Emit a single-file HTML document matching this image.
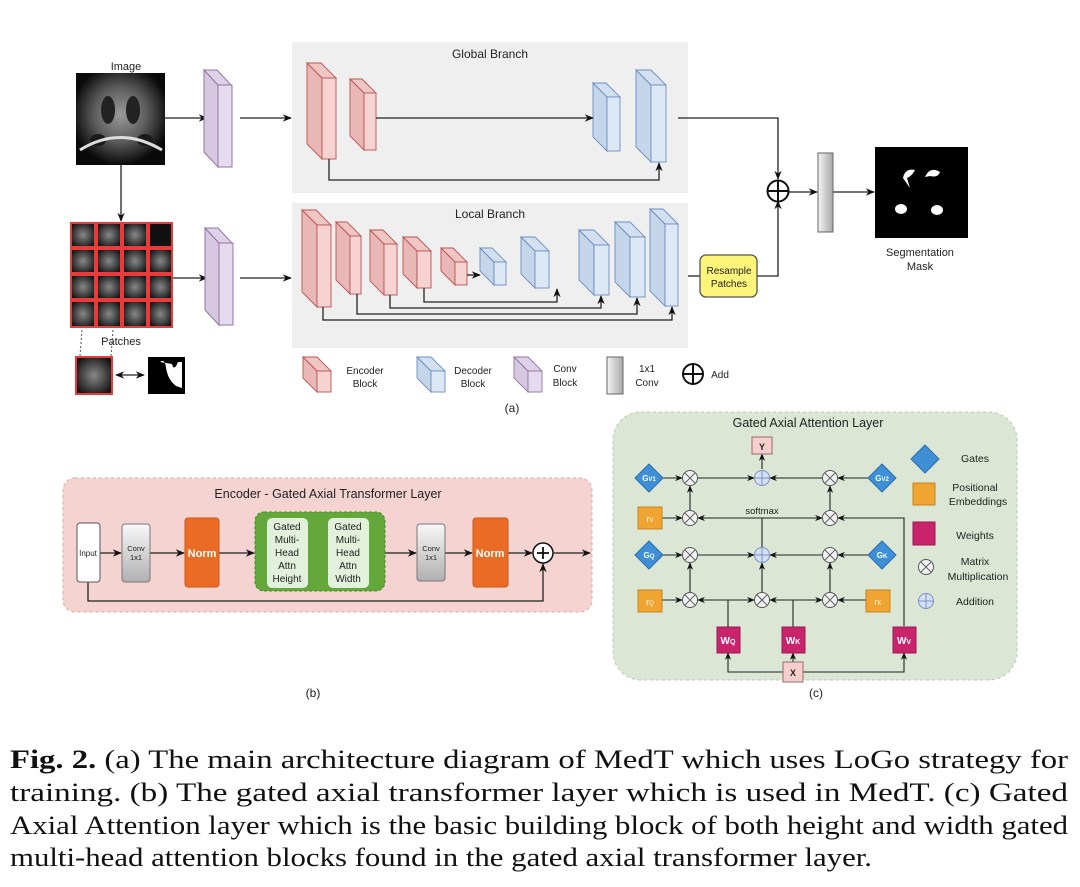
<!DOCTYPE html>
<html><head><meta charset="utf-8"><style>
html,body{margin:0;padding:0;background:#fff;width:1080px;height:887px;overflow:hidden}
svg{display:block}
.s{font-family:"Liberation Sans",sans-serif;fill:#222}
.c{font-family:"Liberation Serif",serif;fill:#111;font-size:26px}
</style></head><body>
<svg width="1080" height="887" viewBox="0 0 1080 887" xmlns="http://www.w3.org/2000/svg">
<defs>
<marker id="a" viewBox="0 0 10 10" refX="9" refY="5" markerWidth="7" markerHeight="7" orient="auto-start-reverse"><path d="M0,1 L10,5 L0,9 L3,5z" fill="#111"/></marker>
<radialGradient id="img" cx="50%" cy="45%" r="55%"><stop offset="0" stop-color="#9a9a9a"/><stop offset="0.55" stop-color="#5a5a5a"/><stop offset="1" stop-color="#0a0a0a"/></radialGradient>
<linearGradient id="gr" x1="0" x2="1"><stop offset="0" stop-color="#f5f5f5"/><stop offset="1" stop-color="#a8a8a8"/></linearGradient>
<linearGradient id="gv" x1="0" y1="0" x2="0" y2="1"><stop offset="0" stop-color="#f8f8f8"/><stop offset="1" stop-color="#b0b0b0"/></linearGradient>
<radialGradient id="pt" cx="50%" cy="50%" r="60%"><stop offset="0" stop-color="#888"/><stop offset="1" stop-color="#111"/></radialGradient>
</defs>

<rect x="292" y="42" width="396" height="151" fill="#efefef"/>
<rect x="292" y="203" width="396" height="145" fill="#efefef"/>
<text x="490" y="58" class="s" font-size="12" text-anchor="middle">Global Branch</text>
<text x="490" y="218" class="s" font-size="12" text-anchor="middle">Local Branch</text>

<text x="126" y="70" class="s" font-size="11" text-anchor="middle">Image</text>
<rect x="76" y="73" width="89" height="92" fill="url(#img)"/>
<ellipse cx="108" cy="110" rx="7" ry="14" fill="#222"/><ellipse cx="133" cy="110" rx="7" ry="14" fill="#222"/>
<ellipse cx="98" cy="140" rx="8" ry="6" fill="#1a1a1a"/><ellipse cx="145" cy="140" rx="8" ry="6" fill="#1a1a1a"/>
<path d="M80,150 Q120,125 162,150" stroke="#ddd" stroke-width="3" fill="none"/>

<g stroke="#222" stroke-width="1.3" fill="none">
<line x1="165" y1="118" x2="207" y2="118" marker-end="url(#a)"/>
<line x1="240" y1="118" x2="291" y2="118" marker-end="url(#a)"/>
<line x1="121" y1="165" x2="121" y2="221" marker-end="url(#a)"/>
<line x1="172" y1="278" x2="207" y2="278" marker-end="url(#a)"/>
<line x1="240" y1="278" x2="291" y2="278" marker-end="url(#a)"/>
</g>

<g stroke="#9673a6" stroke-width="1">
<polygon points="204,70 218,85 218,167 204,152" fill="#d6c8e0"/><polygon points="204,70 217,70 231,85 218,85" fill="#ded2e8"/><rect x="218" y="85" width="14" height="82" fill="#e5dbee"/>
<polygon points="205,228 219,243 219,325 205,310" fill="#d6c8e0"/><polygon points="205,228 218,228 232,243 219,243" fill="#ded2e8"/><rect x="219" y="243" width="14" height="82" fill="#e5dbee"/>
</g>

<g stroke="#e83c3c" stroke-width="2">
<rect x="71" y="223" width="24" height="24" fill="url(#pt)"/><rect x="97" y="223" width="24" height="24" fill="url(#pt)"/><rect x="123" y="223" width="24" height="24" fill="url(#pt)"/><rect x="149" y="223" width="23" height="24" fill="#111"/>
<rect x="71" y="249" width="24" height="24" fill="url(#pt)"/><rect x="97" y="249" width="24" height="24" fill="url(#pt)"/><rect x="123" y="249" width="24" height="24" fill="url(#pt)"/><rect x="149" y="249" width="23" height="24" fill="url(#pt)"/>
<rect x="71" y="275" width="24" height="24" fill="url(#pt)"/><rect x="97" y="275" width="24" height="24" fill="url(#pt)"/><rect x="123" y="275" width="24" height="24" fill="url(#pt)"/><rect x="149" y="275" width="23" height="24" fill="url(#pt)"/>
<rect x="71" y="301" width="24" height="26" fill="url(#pt)"/><rect x="97" y="301" width="24" height="26" fill="url(#pt)"/><rect x="123" y="301" width="24" height="26" fill="url(#pt)"/><rect x="149" y="301" width="23" height="26" fill="url(#pt)"/>
</g>
<text x="121" y="345" class="s" font-size="11" text-anchor="middle">Patches</text>
<line x1="82" y1="330" x2="80" y2="356" stroke="#555" stroke-dasharray="2,2"/>
<line x1="113" y1="330" x2="111" y2="356" stroke="#555" stroke-dasharray="2,2"/>
<rect x="76" y="357" width="36" height="37" fill="url(#pt)" stroke="#e83c3c" stroke-width="2"/>
<line x1="116" y1="375" x2="144" y2="375" stroke="#222" stroke-width="1.3" marker-start="url(#a)" marker-end="url(#a)"/>
<rect x="148" y="357" width="37" height="37" fill="#000"/>
<path d="M160,362 Q165,358 166,368 Q168,380 176,386 L182,388 L182,362 L178,362 Q174,372 172,364 Z" fill="#fff"/>

<g stroke="#b85450" stroke-width="0.9">
<polygon points="307,63 322,78 322,159 307,144" fill="#e9b8b6"/><polygon points="307,63 321,63 336,78 322,78" fill="#f0c6c4"/><rect x="322" y="78" width="14" height="81" fill="#f6d3d1"/>
<polygon points="350,79 364,93 364,150 350,136" fill="#e9b8b6"/><polygon points="350,79 362,79 376,93 364,93" fill="#f0c6c4"/><rect x="364" y="93" width="12" height="57" fill="#f6d3d1"/>
<polygon points="302,210 317,225 317,307 302,292" fill="#e9b8b6"/><polygon points="302,210 316,210 331,225 317,225" fill="#f0c6c4"/><rect x="317" y="225" width="14" height="82" fill="#f6d3d1"/>
<polygon points="336,222 350,236 350,294 336,280" fill="#e9b8b6"/><polygon points="336,222 347,222 361,236 350,236" fill="#f0c6c4"/><rect x="350" y="236" width="11" height="58" fill="#f6d3d1"/>
<polygon points="370,230 384,244 384,295 370,281" fill="#e9b8b6"/><polygon points="370,230 383,230 397,244 384,244" fill="#f0c6c4"/><rect x="384" y="244" width="13" height="51" fill="#f6d3d1"/>
<polygon points="403,237 417,251 417,288 403,274" fill="#e9b8b6"/><polygon points="403,237 417,237 431,251 417,251" fill="#f0c6c4"/><rect x="417" y="251" width="14" height="37" fill="#f6d3d1"/>
<polygon points="441,248 455,262 455,285 441,271" fill="#e9b8b6"/><polygon points="441,248 453,248 467,262 455,262" fill="#f0c6c4"/><rect x="455" y="262" width="12" height="23" fill="#f6d3d1"/>
<polygon points="303,357 317,371 317,392 303,378" fill="#e9b8b6"/><polygon points="303,357 317,357 331,371 317,371" fill="#f0c6c4"/><rect x="317" y="371" width="14" height="21" fill="#f6d3d1"/>
</g>
<g stroke="#6c8ebf" stroke-width="0.9">
<polygon points="593,83 607,97 607,151 593,137" fill="#c5d5ea"/><polygon points="593,83 606,83 620,97 607,97" fill="#d2e0f1"/><rect x="607" y="97" width="13" height="54" fill="#dde8f7"/>
<polygon points="636,70 651,85 651,162 636,147" fill="#c5d5ea"/><polygon points="636,70 651,70 666,85 651,85" fill="#d2e0f1"/><rect x="651" y="85" width="15" height="77" fill="#dde8f7"/>
<polygon points="480,248 494,262 494,285 480,271" fill="#c5d5ea"/><polygon points="480,248 492,248 506,262 494,262" fill="#d2e0f1"/><rect x="494" y="262" width="12" height="23" fill="#dde8f7"/>
<polygon points="521,237 535,251 535,288 521,274" fill="#c5d5ea"/><polygon points="521,237 535,237 549,251 535,251" fill="#d2e0f1"/><rect x="535" y="251" width="14" height="37" fill="#dde8f7"/>
<polygon points="579,230 594,245 594,295 579,280" fill="#c5d5ea"/><polygon points="579,230 594,230 609,245 594,245" fill="#d2e0f1"/><rect x="594" y="245" width="15" height="50" fill="#dde8f7"/>
<polygon points="615,222 630,237 630,297 615,282" fill="#c5d5ea"/><polygon points="615,222 630,222 645,237 630,237" fill="#d2e0f1"/><rect x="630" y="237" width="15" height="60" fill="#dde8f7"/>
<polygon points="650,209 665,224 665,306 650,291" fill="#c5d5ea"/><polygon points="650,209 663,209 678,224 665,224" fill="#d2e0f1"/><rect x="665" y="224" width="13" height="82" fill="#dde8f7"/>
<polygon points="417,357 431,371 431,392 417,378" fill="#c5d5ea"/><polygon points="417,357 431,357 445,371 431,371" fill="#d2e0f1"/><rect x="431" y="371" width="14" height="21" fill="#dde8f7"/>
</g>
<g stroke="#9673a6" stroke-width="0.9">
<polygon points="514,357 528,371 528,392 514,378" fill="#d6c8e0"/><polygon points="514,357 528,357 542,371 528,371" fill="#ded2e8"/><rect x="528" y="371" width="14" height="21" fill="#e5dbee"/>
</g>

<g stroke="#222" stroke-width="1.3" fill="none">
<line x1="376" y1="118" x2="593" y2="118" marker-end="url(#a)"/>
<polyline points="329,159 329,180 659,180 659,163" marker-end="url(#a)"/>
<line x1="467" y1="275" x2="480" y2="275" marker-end="url(#a)"/>
<polyline points="323,307 323,320 672,320 672,307" marker-end="url(#a)"/>
<polyline points="357,294 357,314 637,314 637,298" marker-end="url(#a)"/>
<polyline points="390,295 390,308 601,308 601,296" marker-end="url(#a)"/>
<polyline points="424,288 424,302 557,302 557,289" marker-end="url(#a)"/>
<polyline points="678,118 778,118 778,179" marker-end="url(#a)"/>
<line x1="688" y1="276" x2="700" y2="276"/>
<polyline points="757,276 778,276 778,201" marker-end="url(#a)"/>
<line x1="789" y1="192" x2="817" y2="192" marker-end="url(#a)"/>
<line x1="833" y1="192" x2="874" y2="192" marker-end="url(#a)"/>
</g>
<circle cx="778" cy="191" r="10.5" fill="#fff" stroke="#111" stroke-width="2"/>
<line x1="767.5" y1="191" x2="788.5" y2="191" stroke="#111" stroke-width="2"/><line x1="778" y1="180.5" x2="778" y2="201.5" stroke="#111" stroke-width="2"/>
<rect x="818" y="153" width="15" height="79" fill="url(#gr)" stroke="#666"/>
<rect x="700" y="255" width="57" height="42" rx="6" fill="#fdf57a" stroke="#555" stroke-width="1.3"/>
<text x="729" y="274" class="s" font-size="10" text-anchor="middle">Resample</text>
<text x="729" y="287" class="s" font-size="10" text-anchor="middle">Patches</text>
<rect x="875" y="147" width="93" height="91" fill="#000"/>
<path d="M903,178 Q905,168 915,170 Q912,176 907,178 L910,188 Z" fill="#fff"/>
<path d="M925,177 Q930,166 940,172 Q938,178 930,176 Z" fill="#fff"/>
<ellipse cx="901" cy="209" rx="6" ry="5" fill="#fff"/><ellipse cx="937" cy="210" rx="6" ry="5" fill="#fff"/>
<text x="920" y="256" class="s" font-size="11" text-anchor="middle">Segmentation</text>
<text x="920" y="270" class="s" font-size="11" text-anchor="middle">Mask</text>

<g class="s" font-size="10" text-anchor="middle">
<text x="365" y="374">Encoder</text><text x="365" y="387">Block</text>
<text x="473" y="374">Decoder</text><text x="473" y="387">Block</text>
<text x="565" y="372">Conv</text><text x="565" y="386">Block</text>
<text x="647" y="372">1x1</text><text x="647" y="386">Conv</text>
<text x="720" y="378">Add</text>
</g>
<rect x="607" y="357" width="16" height="37" fill="url(#gr)" stroke="#666"/>
<circle cx="693" cy="374" r="10" fill="#fff" stroke="#111" stroke-width="2"/>
<line x1="683" y1="374" x2="703" y2="374" stroke="#111" stroke-width="2"/><line x1="693" y1="364" x2="693" y2="384" stroke="#111" stroke-width="2"/>
<text x="512" y="412" class="s" font-size="12" text-anchor="middle">(a)</text>

<rect x="63" y="478" width="529" height="134" rx="12" fill="#f4d3d1" stroke="#d9a8a6" stroke-dasharray="3,3"/>
<text x="328" y="498" class="s" font-size="12.5" text-anchor="middle">Encoder - Gated Axial Transformer Layer</text>
<g stroke="#222" stroke-width="1.3" fill="none">
<line x1="100" y1="553" x2="121" y2="553" marker-end="url(#a)"/>
<line x1="150" y1="553" x2="184" y2="553" marker-end="url(#a)"/>
<line x1="219" y1="553" x2="254" y2="553" marker-end="url(#a)"/>
<line x1="385" y1="553" x2="416" y2="553" marker-end="url(#a)"/>
<line x1="445" y1="553" x2="472" y2="553" marker-end="url(#a)"/>
<line x1="508" y1="553" x2="532" y2="553" marker-end="url(#a)"/>
<line x1="554" y1="553" x2="590" y2="553" marker-end="url(#a)"/>
<polyline points="88,582 88,601 543,601 543,564" marker-end="url(#a)"/>
</g>
<rect x="77" y="523" width="23" height="59" rx="3" fill="#fff" stroke="#555"/>
<text x="88" y="556" class="s" font-size="8" text-anchor="middle">Input</text>
<rect x="122" y="524" width="28" height="58" rx="3" fill="url(#gv)" stroke="#777"/>
<text x="136" y="551" class="s" font-size="7.5" text-anchor="middle" fill="#444">Conv</text><text x="136" y="560" class="s" font-size="7.5" text-anchor="middle">1x1</text>
<rect x="185" y="518" width="34" height="69" rx="3" fill="#ea6b24" stroke="#c55a1c"/>
<text x="202" y="557" font-family="Liberation Sans,sans-serif" font-size="11" font-weight="bold" fill="#fff" text-anchor="middle">Norm</text>
<rect x="255" y="512" width="130" height="79" rx="9" fill="#64a83c" stroke="#4d8a2c" stroke-dasharray="3,2"/>
<rect x="267" y="518" width="41" height="70" rx="5" fill="#e3f0dc"/>
<rect x="328" y="518" width="41" height="70" rx="5" fill="#e3f0dc"/>
<g class="s" font-size="10" text-anchor="middle">
<text x="287" y="530">Gated</text><text x="287" y="543">Multi-</text><text x="287" y="556">Head</text><text x="287" y="569">Attn</text><text x="287" y="582">Height</text>
<text x="348" y="530">Gated</text><text x="348" y="543">Multi-</text><text x="348" y="556">Head</text><text x="348" y="569">Attn</text><text x="348" y="582">Width</text>
</g>
<rect x="417" y="524" width="28" height="57" rx="3" fill="url(#gv)" stroke="#777"/>
<text x="431" y="551" class="s" font-size="7.5" text-anchor="middle">Conv</text><text x="431" y="560" class="s" font-size="7.5" text-anchor="middle">1x1</text>
<rect x="473" y="518" width="35" height="69" rx="3" fill="#ea6b24" stroke="#c55a1c"/>
<text x="490" y="557" font-family="Liberation Sans,sans-serif" font-size="11" font-weight="bold" fill="#fff" text-anchor="middle">Norm</text>
<circle cx="543" cy="553" r="10" fill="#fff" stroke="#111" stroke-width="1.5"/>
<line x1="537" y1="553" x2="549" y2="553" stroke="#111" stroke-width="1.8"/><line x1="543" y1="547" x2="543" y2="559" stroke="#111" stroke-width="1.8"/>
<text x="313" y="697" class="s" font-size="12" text-anchor="middle">(b)</text>

<rect x="613" y="412" width="404" height="268" rx="28" fill="#dbe7d4" stroke="#b7c9ae" stroke-dasharray="3,3"/>
<text x="808" y="427" class="s" font-size="12.5" text-anchor="middle">Gated Axial Attention Layer</text>
<g stroke="#222" stroke-width="1.1" fill="none">
<line x1="762" y1="469" x2="762" y2="454" marker-end="url(#a)"/>
<line x1="662" y1="478" x2="682" y2="478" marker-end="url(#a)"/>
<line x1="698" y1="478" x2="754" y2="478" marker-end="url(#a)"/>
<line x1="822" y1="478" x2="770" y2="478" marker-end="url(#a)"/>
<line x1="869" y1="478" x2="838" y2="478" marker-end="url(#a)"/>
<line x1="690" y1="510" x2="690" y2="486" marker-end="url(#a)"/>
<line x1="830" y1="510" x2="830" y2="486" marker-end="url(#a)"/>
<line x1="662" y1="518" x2="682" y2="518" marker-end="url(#a)"/>
<line x1="762" y1="518" x2="698" y2="518" marker-end="url(#a)"/>
<line x1="762" y1="518" x2="822" y2="518" marker-end="url(#a)"/>
<polyline points="904,626 904,518 838,518" marker-end="url(#a)"/>
<line x1="762" y1="547" x2="762" y2="518"/>
<line x1="662" y1="555" x2="682" y2="555" marker-end="url(#a)"/>
<line x1="698" y1="555" x2="754" y2="555" marker-end="url(#a)"/>
<line x1="822" y1="555" x2="770" y2="555" marker-end="url(#a)"/>
<line x1="869" y1="555" x2="838" y2="555" marker-end="url(#a)"/>
<line x1="690" y1="592" x2="690" y2="563" marker-end="url(#a)"/>
<line x1="762" y1="592" x2="762" y2="563" marker-end="url(#a)"/>
<line x1="830" y1="592" x2="830" y2="563" marker-end="url(#a)"/>
<line x1="662" y1="600" x2="682" y2="600" marker-end="url(#a)"/>
<line x1="728" y1="600" x2="698" y2="600" marker-end="url(#a)"/>
<line x1="728" y1="600" x2="754" y2="600" marker-end="url(#a)"/>
<line x1="793" y1="600" x2="770" y2="600" marker-end="url(#a)"/>
<line x1="793" y1="600" x2="822" y2="600" marker-end="url(#a)"/>
<line x1="866" y1="600" x2="838" y2="600" marker-end="url(#a)"/>
<line x1="728" y1="627" x2="728" y2="600"/>
<line x1="793" y1="627" x2="793" y2="600"/>
<polyline points="783,672 728,672 728,653" marker-end="url(#a)"/>
<polyline points="803,672 904,672 904,653" marker-end="url(#a)"/>
<line x1="793" y1="662" x2="793" y2="653" marker-end="url(#a)"/>
</g>
<text x="762" y="514" class="s" font-size="9.5" text-anchor="middle">softmax</text>
<rect x="752" y="437" width="20" height="17" fill="#f6cfcd" stroke="#9a6a68"/>
<text x="762" y="450" class="s" font-size="9" font-weight="bold" text-anchor="middle">Y</text>
<rect x="783" y="662" width="20" height="20" fill="#f6cfcd" stroke="#9a6a68"/>
<text x="793" y="676" class="s" font-size="9" font-weight="bold" text-anchor="middle">X</text>
<g fill="#3f8fd6" stroke="#2a6fb0">
<polygon points="649,464 663,478 649,492 635,478"/><polygon points="882,464 896,478 882,492 868,478"/>
<polygon points="649,541 663,555 649,569 635,555"/><polygon points="882,541 896,555 882,569 868,555"/>
<polygon points="925,445 939,459 925,473 911,459"/>
</g>
<g font-family="Liberation Sans,sans-serif" font-size="8" fill="#fff" text-anchor="middle" font-weight="bold">
<text x="649" y="481">G<tspan font-size="6">V1</tspan></text><text x="882" y="481">G<tspan font-size="6">V2</tspan></text>
<text x="649" y="558">G<tspan font-size="6">Q</tspan></text><text x="882" y="558">G<tspan font-size="6">K</tspan></text>
</g>
<g fill="#f0a431" stroke="#c5841f">
<rect x="638" y="507" width="24" height="22"/><rect x="638" y="590" width="24" height="22"/><rect x="866" y="590" width="24" height="22"/><rect x="913" y="483" width="22" height="22"/>
</g>
<g font-family="Liberation Sans,sans-serif" font-size="9" fill="#fff" text-anchor="middle">
<text x="650" y="522">r<tspan font-size="6">V</tspan></text><text x="650" y="605">r<tspan font-size="6">Q</tspan></text><text x="878" y="605">r<tspan font-size="6">K</tspan></text>
</g>
<g fill="#c8236b" stroke="#9a1a52">
<rect x="717" y="627" width="23" height="26"/><rect x="782" y="627" width="23" height="26"/><rect x="893" y="627" width="23" height="26"/><rect x="913" y="522" width="22" height="23"/>
</g>
<g font-family="Liberation Sans,sans-serif" font-size="10" fill="#fff" text-anchor="middle" font-weight="bold">
<text x="728" y="644">W<tspan font-size="7">Q</tspan></text><text x="793" y="644">W<tspan font-size="7">K</tspan></text><text x="904" y="644">W<tspan font-size="7">V</tspan></text>
</g>
<g stroke="#555" stroke-width="1">
<g fill="#f2f2f2">
<circle cx="690" cy="478" r="7.5"/><circle cx="830" cy="478" r="7.5"/><circle cx="690" cy="518" r="7.5"/><circle cx="830" cy="518" r="7.5"/>
<circle cx="690" cy="555" r="7.5"/><circle cx="830" cy="555" r="7.5"/><circle cx="690" cy="600" r="7.5"/><circle cx="762" cy="600" r="7.5"/><circle cx="830" cy="600" r="7.5"/><circle cx="926" cy="567" r="7.5"/>
</g>
<path d="M684.7,472.7l10.6,10.6M695.3,472.7l-10.6,10.6 M824.7,472.7l10.6,10.6M835.3,472.7l-10.6,10.6 M684.7,512.7l10.6,10.6M695.3,512.7l-10.6,10.6 M824.7,512.7l10.6,10.6M835.3,512.7l-10.6,10.6 M684.7,549.7l10.6,10.6M695.3,549.7l-10.6,10.6 M824.7,549.7l10.6,10.6M835.3,549.7l-10.6,10.6 M684.7,594.7l10.6,10.6M695.3,594.7l-10.6,10.6 M756.7,594.7l10.6,10.6M767.3,594.7l-10.6,10.6 M824.7,594.7l10.6,10.6M835.3,594.7l-10.6,10.6 M920.7,561.7l10.6,10.6M931.3,561.7l-10.6,10.6"/>
<g fill="#d5e0f7" stroke="#7a90c0"><circle cx="762" cy="478" r="7.5"/><circle cx="762" cy="555" r="7.5"/><circle cx="926" cy="601" r="7.5"/></g>
<path stroke="#7a90c0" d="M754.5,478h15M762,470.5v15 M754.5,555h15M762,547.5v15 M918.5,601h15M926,593.5v15"/>
</g>
<g class="s" font-size="10.5" text-anchor="middle">
<text x="975" y="462">Gates</text>
<text x="975" y="491">Positional</text><text x="978" y="505">Embeddings</text>
<text x="975" y="539">Weights</text>
<text x="975" y="565">Matrix</text><text x="978" y="580">Multiplication</text>
<text x="975" y="605">Addition</text>
</g>
<text x="816" y="697" class="s" font-size="12" text-anchor="middle">(c)</text>

<text x="10" y="768" class="c" textLength="1058" lengthAdjust="spacingAndGlyphs"><tspan font-weight="bold">Fig. 2.</tspan>  (a) The main architecture diagram of MedT which uses LoGo strategy for</text>
<text x="10" y="801" class="c" textLength="1058" lengthAdjust="spacingAndGlyphs">training. (b) The gated axial transformer layer which is used in MedT. (c) Gated</text>
<text x="10" y="834" class="c" textLength="1058" lengthAdjust="spacingAndGlyphs">Axial Attention layer which is the basic building block of both height and width gated</text>
<text x="10" y="866" class="c" textLength="862" lengthAdjust="spacingAndGlyphs">multi-head attention blocks found in the gated axial transformer layer.</text>
</svg>
</body></html>
